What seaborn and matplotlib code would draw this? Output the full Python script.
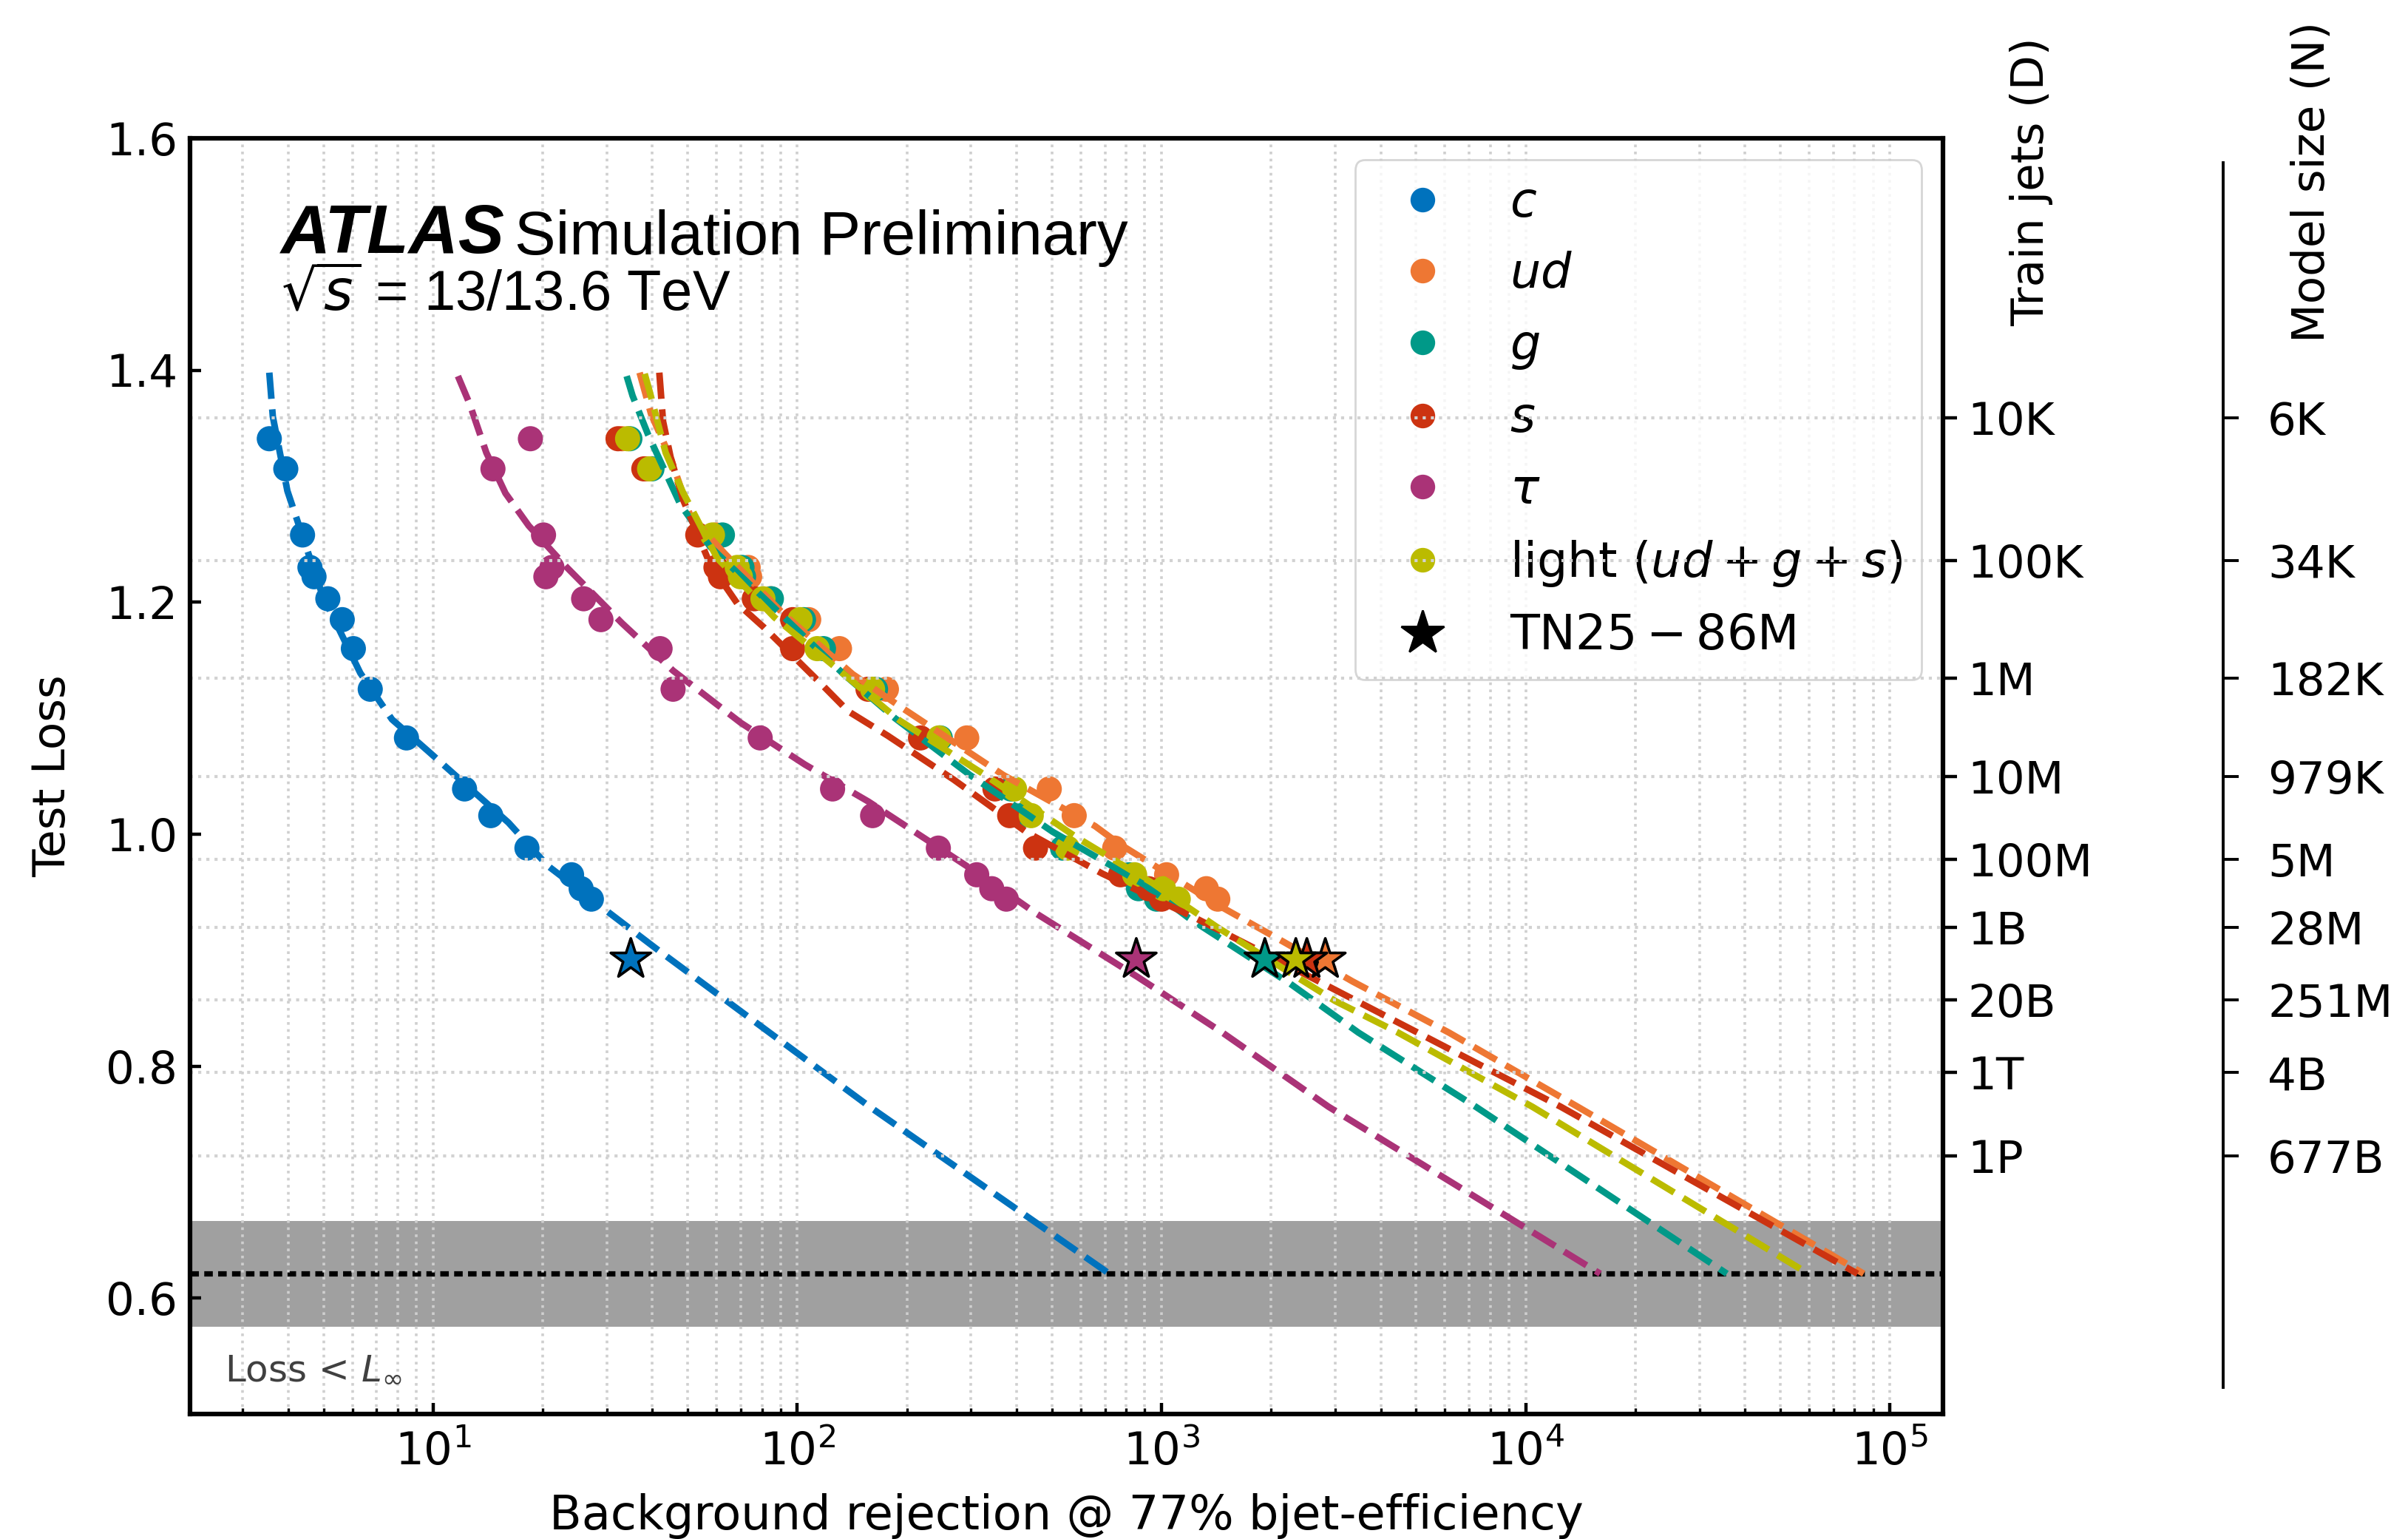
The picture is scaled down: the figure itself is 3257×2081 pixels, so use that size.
import numpy as np
import pandas as pd
import matplotlib
matplotlib.use('Agg')
import matplotlib.pyplot as plt
import seaborn as sns
from matplotlib.lines import Line2D

# test loss of each trained model (same models for every flavour)
loss = [1.341, 1.315, 1.258, 1.230, 1.222, 1.203, 1.185, 1.160, 1.125,
        1.083, 1.039, 1.016, 0.988, 0.965, 0.953, 0.944]

# background rejection @ 77% b-eff per flavour
c_rej = [3.55, 3.94, 4.38, 4.59, 4.71, 5.14, 5.63, 6.04, 6.72, 8.45, 12.2, 14.4, 18.1, 24.0, 25.5, 27.2]
ud_rej = [33.0, 38.6, 59.8, 73.3, 74.0, 84.4, 107.5, 130.6, 175.7, 292, 492, 576, 744, 1033, 1328, 1428]
g_rej = [34.7, 39.9, 62.3, 70.5, 71.2, 84.9, 104, 118, 164, 247, 386, 412, 535, 815, 865, 970]
s_rej = [32.2, 37.9, 53.3, 59.8, 61.5, 76.2, 97.1, 97.1, 156.4, 218, 349, 383, 451, 772, 922, 1001]
tau_rej = [18.5, 14.6, 20.1, 21.2, 20.4, 25.9, 28.9, 42.0, 45.6, 79.1, 125, 161, 244, 311, 342, 375]
light_rej = [34.2, 39.3, 58.5, 68.4, 69.8, 80.5, 101.8, 113.4, 161, 245, 395, 439, 552, 844, 1013, 1112]

# TN25-86M reference model
star_loss = 0.892
star_rej = {'c': 34.9, 'ud': 2818, 'g': 1923, 's': 2508, 'tau': 853, 'light': 2339}

# scaling-law fits (dashed)
c_fit_rej = [3.55, 3.63, 3.98, 4.38, 4.97, 6.31, 7.71, 9.74, 16.1, 20.6, 31.1, 41.5, 158, 719]
c_fit_loss = [1.398, 1.360, 1.296, 1.257, 1.206, 1.139, 1.099, 1.071, 1.010, 0.973, 0.930, 0.900, 0.765, 0.621]
ud_fit_rej = [36.9, 39.7, 45.1, 50.9, 63.2, 91.6, 141.9, 196, 368, 657, 763, 1428, 2169, 3349, 6152, 13890, 84770]
ud_fit_loss = [1.398, 1.362, 1.323, 1.274, 1.242, 1.190, 1.138, 1.108, 1.051, 1.007, 0.992, 0.939, 0.907, 0.873, 0.829, 0.765, 0.621]
g_fit_rej = [34.0, 35.3, 39.0, 47.8, 57.6, 93.4, 134, 185.5, 298, 503, 902, 1185, 2259, 3471, 7294, 35700]
g_fit_loss = [1.395, 1.378, 1.344, 1.284, 1.248, 1.185, 1.138, 1.100, 1.051, 1.002, 0.956, 0.928, 0.871, 0.829, 0.765, 0.621]
s_fit_rej = [41.8, 42.8, 44.9, 48.5, 57.6, 68.4, 81.2, 114.3, 138, 177, 269, 425, 688, 1234, 1955, 12480, 81550]
s_fit_loss = [1.398, 1.356, 1.325, 1.289, 1.233, 1.199, 1.178, 1.132, 1.106, 1.085, 1.047, 1.002, 0.966, 0.928, 0.896, 0.765, 0.621]
tau_fit_rej = [11.7, 12.6, 14.0, 15.8, 18.3, 23.3, 33.0, 45.6, 70.0, 105, 157, 235, 351, 451, 859, 1469, 2875, 16020]
tau_fit_loss = [1.395, 1.371, 1.329, 1.294, 1.266, 1.230, 1.182, 1.141, 1.096, 1.060, 1.028, 0.992, 0.956, 0.932, 0.877, 0.829, 0.765, 0.621]
light_fit_rej = [38.1, 39.3, 43.5, 48.5, 60.3, 86.5, 129.5, 191, 324, 580, 943, 1419, 3006, 4460, 10430, 59760]
light_fit_loss = [1.397, 1.382, 1.329, 1.295, 1.238, 1.187, 1.142, 1.098, 1.052, 0.998, 0.958, 0.920, 0.856, 0.829, 0.765, 0.621]

L_inf = 0.621
L_inf_err = 0.0455

# secondary axes: train jets (D) and model size (N) at given loss
axis_loss = [1.3587, 1.2362, 1.1347, 1.0497, 0.9786, 0.9194, 0.8569, 0.7945, 0.7227]
D_labels = ['10K', '100K', '1M', '10M', '100M', '1B', '20B', '1T', '1P']
N_labels = ['6K', '34K', '182K', '979K', '5M', '28M', '251M', '4B', '677B']

flavours = ['c', 'ud', 'g', 's', 'tau', 'light']
colors = {'c': '#0072BD', 'ud': '#EE7733', 'g': '#009988', 's': '#CC3311',
          'tau': '#AA3377', 'light': '#BBBB00'}
labels = {'c': '$c$', 'ud': '$ud$', 'g': '$g$', 's': '$s$', 'tau': r'$\tau$',
          'light': r'light $(ud+g+s)$'}

rej = {'c': c_rej, 'ud': ud_rej, 'g': g_rej, 's': s_rej, 'tau': tau_rej, 'light': light_rej}
fits = {'c': (c_fit_rej, c_fit_loss), 'ud': (ud_fit_rej, ud_fit_loss),
        'g': (g_fit_rej, g_fit_loss), 's': (s_fit_rej, s_fit_loss),
        'tau': (tau_fit_rej, tau_fit_loss), 'light': (light_fit_rej, light_fit_loss)}

pts = pd.concat([pd.DataFrame({'rej': rej[f], 'loss': loss, 'flavour': f}) for f in flavours],
                ignore_index=True)
fit_df = pd.concat([pd.DataFrame({'rej': fits[f][0], 'loss': fits[f][1], 'flavour': f}) for f in flavours],
                   ignore_index=True)
stars = pd.DataFrame({'rej': [star_rej[f] for f in flavours], 'loss': star_loss, 'flavour': flavours})

fs = 22
plt.rcParams['font.size'] = fs

fig = plt.figure(figsize=(16.285, 10.405), dpi=200)
ax = fig.add_axes([0.0789, 0.0812, 0.7280, 0.8289])
ax.set_xscale('log')

ax.axhspan(L_inf - L_inf_err, L_inf + L_inf_err, color='#a0a0a0', lw=0, zorder=0)
ax.axhline(L_inf, color='black', ls=(0, (1.6, 1.0)), linewidth=2.6, zorder=1.2)

sns.scatterplot(data=pts, x='rej', y='loss', hue='flavour', hue_order=flavours, palette=colors,
                s=150, linewidth=0, legend=False, ax=ax, zorder=2)
sns.lineplot(data=fit_df, x='rej', y='loss', hue='flavour', hue_order=flavours, palette=colors,
             sort=False, estimator=None, linewidth=3.2, linestyle=(0, (4, 1.6)), legend=False,
             ax=ax, zorder=3)
sns.scatterplot(data=stars, x='rej', y='loss', hue='flavour', hue_order=flavours, palette=colors,
                marker='*', s=420, edgecolor='black', linewidth=1.3, legend=False, ax=ax, zorder=4)

ax.set_xlim(2.15, 1.4e5)
ax.set_ylim(0.5, 1.6)
ax.set_yticks([0.6, 0.8, 1.0, 1.2, 1.4, 1.6])
ax.set_yticklabels(['0.6', '0.8', '1.0', '1.2', '1.4', '1.6'])
ax.tick_params(axis='both', which='major', direction='in', length=5.5, width=1.6,
               labelsize=fs, top=False, right=False)
ax.tick_params(axis='x', which='major', pad=8)
ax.tick_params(axis='y', which='major', pad=6)
ax.tick_params(axis='x', which='minor', direction='in', length=3, width=1.2, top=False)
ax.grid(axis='x', which='both', ls=':', color='#cfcfcf', lw=1.3)
for sp in ax.spines.values():
    sp.set_linewidth(2.2)
ax.set_xlabel('Background rejection @ 77% bjet-efficiency', fontsize=23, labelpad=9)
ax.set_ylabel('Test Loss', fontsize=fs, labelpad=15)

# labels
t = ax.text(0.0517, 0.9103, 'ATLAS', transform=ax.transAxes, fontsize=33.5,
            family='Liberation Sans', weight='bold', style='italic', va='baseline')
ax.annotate('Simulation Preliminary', xy=(1, 0), xycoords=t, xytext=(5, 0),
            textcoords='offset points', fontsize=30, family='Liberation Sans', va='bottom')
ax.text(0.0517, 0.8656, r'$\sqrt{s}$ = 13/13.6 TeV', transform=ax.transAxes, fontsize=27.3,
        family='Liberation Sans', va='baseline')
ax.text(0.0197, 0.0272, r'Loss < $L_{\infty}$', transform=ax.transAxes, fontsize=18,
        color='#404040', va='baseline')

handles = [Line2D([], [], ls='none', marker='o', ms=12, color=colors[f], mew=0) for f in flavours]
handles.append(Line2D([], [], ls='none', marker='*', ms=22, color='black'))
leg_labels = [labels[f] for f in flavours] + [r'$\mathrm{TN25-86M}$']
ax.legend(handles, leg_labels, loc='upper right', fontsize=23.5, borderaxespad=0.45,
          labelspacing=0.5, edgecolor='0.8')

# train jets axis
ax2 = ax.twinx()
ax2.set_ylim(0.5, 1.6)
ax2.set_yticks(axis_loss)
ax2.set_yticklabels(D_labels)
ax2.tick_params(axis='y', direction='out', length=7, width=1.6, pad=5, labelsize=fs)
ax2.grid(axis='y', ls=':', color='#d2d2d2', lw=1.5)
for sp in ax2.spines.values():
    sp.set_linewidth(2.2)
ax2.text(1.0505, 0.966, 'Train jets (D)', transform=ax.transAxes, rotation=90,
         ha='center', va='center', fontsize=fs)

# model size axis
ax3 = ax.twinx()
ax3.set_ylim(0.5, 1.6)
for s in ['top', 'left', 'bottom']:
    ax3.spines[s].set_visible(False)
ax3.spines['right'].set_position(('axes', 1.16))
ax3.spines['right'].set_bounds(0.523, 1.579)
ax3.spines['right'].set_linewidth(1.4)
ax3.set_yticks(axis_loss)
ax3.set_yticklabels(N_labels)
ax3.tick_params(axis='y', direction='out', length=7.5, width=1.4, pad=14, labelsize=fs)
ax3.text(1.2108, 0.966, 'Model size (N)', transform=ax.transAxes, rotation=90,
         ha='center', va='center', fontsize=fs)

fig.savefig('out.png', dpi=200)
